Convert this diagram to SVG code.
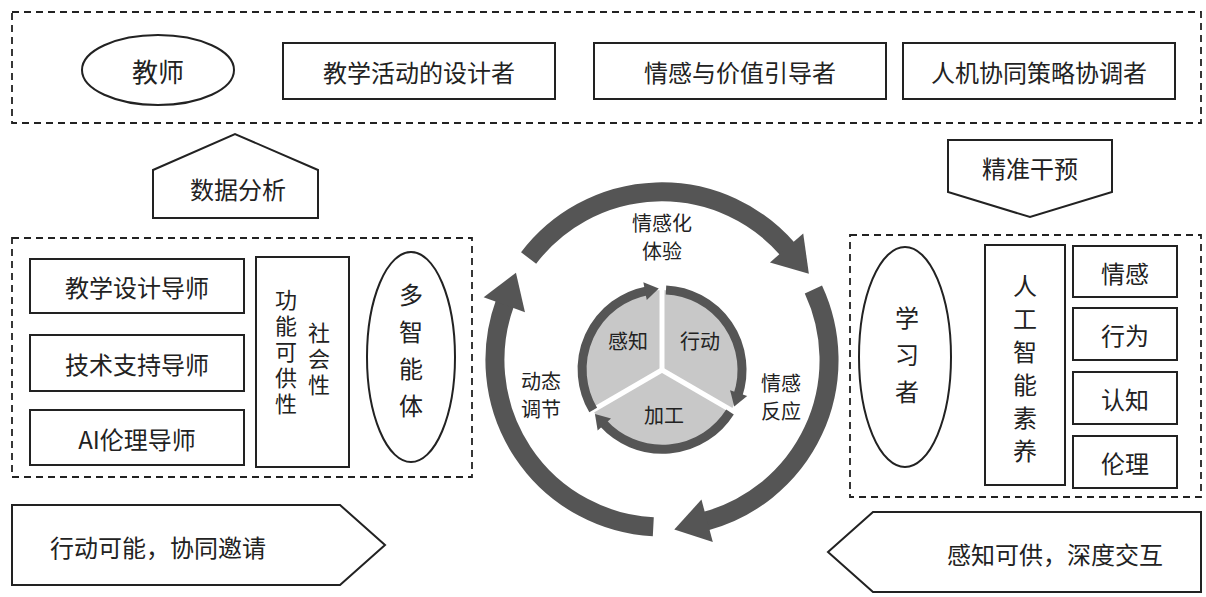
<svg xmlns="http://www.w3.org/2000/svg" width="1206" height="597" viewBox="0 0 1206 597">
<style>
text{font-family:"Noto Sans CJK SC","Noto Sans",sans-serif;fill:#222;font-size:24px;text-anchor:middle;dominant-baseline:central}
.s{font-size:20px}
.v{font-size:22px;writing-mode:vertical-rl;text-anchor:start;letter-spacing:4px}
.v2{font-size:24px;writing-mode:vertical-rl;text-anchor:start}
.b{fill:#fff;stroke:#222;stroke-width:2}
.d{fill:none;stroke:#222;stroke-width:1.8;stroke-dasharray:7,5}
.ring{fill:none;stroke:#555;stroke-width:19}
.iring{fill:none;stroke:#555;stroke-width:9}
</style>
<defs>
<marker id="ah" markerUnits="userSpaceOnUse" markerWidth="40" markerHeight="50" refX="0" refY="0" viewBox="-2 -24 40 48" orient="auto" overflow="visible"><polygon points="-2,-22 32,0 -2,22" fill="#555"/></marker>
<marker id="ai" markerUnits="userSpaceOnUse" markerWidth="20" markerHeight="20" refX="0" refY="0" viewBox="-2 -10 20 20" orient="auto" overflow="visible"><polygon points="-2,-9 12,0 -2,9" fill="#555"/></marker>
</defs>
<rect class="d" x="12" y="12" width="1189" height="111"/>
<g id="teacher"><ellipse class="b" cx="158" cy="70" rx="76" ry="35"/><text x="158" y="70" style="font-size:26px">教师</text></g>
<g id="t1"><rect class="b" x="283" y="43" width="272" height="56"/><text x="419" y="71">教学活动的设计者</text></g>
<g id="t2"><rect class="b" x="594" y="43" width="292" height="56"/><text x="740" y="71">情感与价值引导者</text></g>
<g id="t3"><rect class="b" x="903" y="43" width="272" height="56"/><text x="1039" y="71">人机协同策略协调者</text></g>
<g id="data"><polygon class="b" points="153,170 235,134 318,170 318,218 153,218"/><text x="238" y="188">数据分析</text></g>
<g id="interv"><polygon class="b" points="948,140 1112,140 1112,192 1030,217 948,192"/><text x="1030" y="167">精准干预</text></g>
<rect class="d" x="12" y="238" width="460" height="239"/>
<g id="m1"><rect class="b" x="30" y="259" width="214" height="54"/><text x="137" y="286">教学设计导师</text></g>
<g id="m2"><rect class="b" x="30" y="335" width="214" height="56"/><text x="137" y="363">技术支持导师</text></g>
<g id="m3"><rect class="b" x="30" y="410" width="214" height="55"/><text x="137" y="438">AI伦理导师</text></g>
<g id="afford"><rect class="b" x="256" y="257" width="93" height="210"/>
<text class="v" x="286" y="289">功能可供性</text>
<text class="v" x="319" y="322">社会性</text></g>
<g id="agent"><ellipse class="b" cx="411" cy="357" rx="44" ry="105"/>
<text class="v2" x="411" y="283" style="letter-spacing:13px">多智能体</text></g>
<rect class="d" x="850" y="235" width="351" height="262"/>
<g id="learner"><ellipse class="b" cx="905" cy="357" rx="46" ry="110"/>
<text class="v2" x="907" y="306" style="letter-spacing:13px">学习者</text></g>
<g id="ai"><rect class="b" x="985" y="245" width="80" height="240"/>
<text class="v2" x="1025" y="274" style="letter-spacing:9px">人工智能素养</text></g>
<g id="r1"><rect class="b" x="1073" y="246" width="104" height="51"/><text x="1125" y="272">情感</text></g>
<g id="r2"><rect class="b" x="1073" y="308" width="104" height="52"/><text x="1125" y="334">行为</text></g>
<g id="r3"><rect class="b" x="1073" y="372" width="104" height="52"/><text x="1125" y="398">认知</text></g>
<g id="r4"><rect class="b" x="1073" y="436" width="104" height="52"/><text x="1125" y="462">伦理</text></g>
<g id="bl"><polygon class="b" points="12,505 340,505 385,545 340,585 12,585"/><text x="158" y="546">行动可能，协同邀请</text></g>
<g id="br"><polygon class="b" points="873,512 1201,512 1201,592 873,592 828,552"/><text x="1055" y="553">感知可供，深度交互</text></g>
<g id="cycle">
<circle cx="662" cy="370" r="80" fill="#c8c8c8"/>
<g stroke="#fff" stroke-width="5"><line x1="662" y1="370" x2="662" y2="285"/><line x1="662" y1="370" x2="736" y2="413"/><line x1="662" y1="370" x2="588" y2="413"/></g>
</g>
<g id="connectors">
<path class="ring" d="M528.6,258 A167,167 0 0 1 787.9,249.5" marker-end="url(#ah)"/>
<path class="ring" d="M813.4,289.4 A167,167 0 0 1 705.2,521.3" marker-end="url(#ah)"/>
<path class="ring" d="M653.3,526.8 A167,167 0 0 1 505,302.9" marker-end="url(#ah)"/>
<path class="iring" d="M593.2,410 A80,80 0 0 1 647,290.8" marker-end="url(#ai)"/>
<path class="iring" d="M666,290 A80,80 0 0 1 738,395" marker-end="url(#ai)"/>
<path class="iring" d="M730,412 A80,80 0 0 1 603,423" marker-end="url(#ai)"/>
</g>
<g id="labels">
<text class="s" x="662" y="222">情感化</text><text class="s" x="662" y="250">体验</text>
<text class="s" x="628" y="340">感知</text><text class="s" x="700" y="340">行动</text><text class="s" x="664" y="414">加工</text>
<text class="s" x="781" y="382">情感</text><text class="s" x="781" y="410">反应</text>
<text class="s" x="541" y="380">动态</text><text class="s" x="541" y="408">调节</text>
</g>
</svg>
